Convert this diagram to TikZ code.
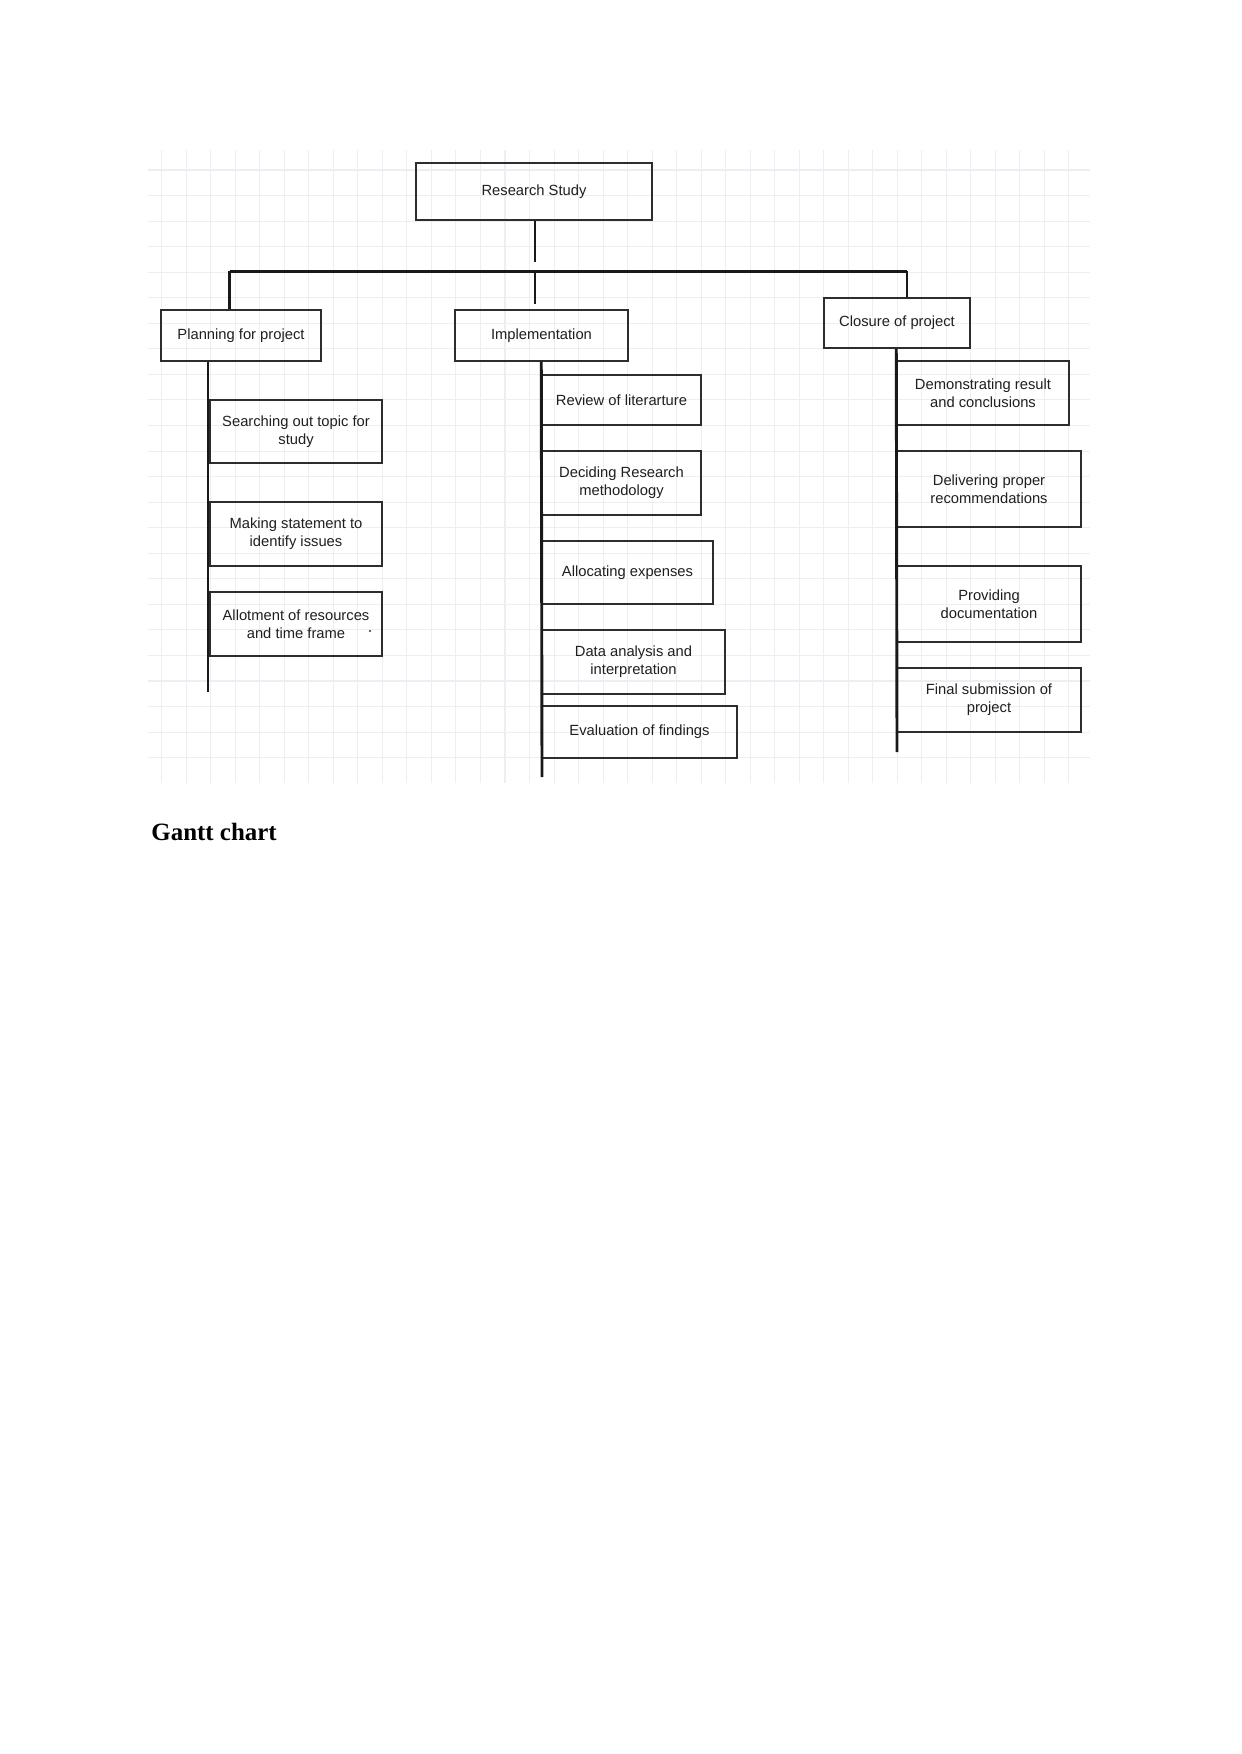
\documentclass[tikz,border=0pt]{standalone}
\usepackage{fontspec}
\setmainfont{Liberation Sans}
\newfontfamily\headfont{Liberation Serif}

\definecolor{boxgray}{RGB}{45,45,45}
\definecolor{gridblue}{RGB}{236,238,244}
\newcommand{\pxu}{0.016922cm}

\tikzset{
  box/.style 2 args={draw=boxgray, line width=0.7pt, rectangle, inner sep=0pt,
    minimum width=#1*\pxu, minimum height=#2*\pxu, align=center,
    font=\fontsize{7.1}{8.6}\selectfont, text=black!88},
  link/.style={line width=1.4pt, black!90},
  gridline/.style={gridblue, line width=0.5pt},
}

\begin{document}
\begin{tikzpicture}[x=\pxu, y=-\pxu]
    % Page
    \fill[white] (0,0) rectangle (1241,1754);
    \useasboundingbox (0,0) rectangle (1241,1754);

    % Background grid
    \foreach \i in {0,...,37}
        \draw[gridline] ({161.7+24.52*\i},150) -- ({161.7+24.52*\i},783);
    \foreach \j in {0,...,23}
        \draw[gridline] (148,{170+25.55*\j}) -- (1090,{170+25.55*\j});

    % Top level
    \node[box={236}{57}] (root) at (534,191.5) {Research Study};

    % Three branches
    \node[box={160}{51}] (plan) at (241,335.5) {Planning for project};
    \node[box={173}{51}] (impl) at (541.5,335.5) {Implementation};
    \node[box={146}{50}] (close) at (897,323) {Closure of project};

    % Planning tasks
    \node[box={172}{63}] (p1) at (296,431.5) {Searching out topic for\\study};
    \node[box={172}{64}] (p2) at (296,534) {Making statement to\\identify issues};
    \node[box={172}{64}] (p3) at (296,624) {Allotment of resources\\and time frame};
    \fill[black!80] (370,631) circle (1.1);

    % Implementation tasks
    \node[box={159}{50}] (i1) at (621.5,400) {Review of literarture};
    \node[box={159}{64}] (i2) at (621.5,483) {Deciding Research\\methodology};
    \node[box={171}{63}] (i3) at (627.5,572.5) {Allocating expenses};
    \node[box={183}{64}] (i4) at (633.5,662) {Data analysis and\\interpretation};
    \node[box={195}{52}] (i5) at (639.5,732) {Evaluation of findings};

    % Closure tasks
    \node[box={172}{64}] (c1) at (983,393) {Demonstrating result\\and conclusions};
    \node[box={184}{76}] (c2) at (989,489) {Delivering proper\\recommendations};
    \node[box={184}{76}] (c3) at (989,604) {Providing\\documentation};
    \node[box={184}{64}] (c4) at (989,700) {Final submission of\\project};

    % Connector ends
    \coordinate (root-end) at (535,262);
    \coordinate (bar-l) at (229.5,271.5);
    \coordinate (bar-r) at (907,271.5);
    \coordinate (mid-top) at (535,271.5);
    \coordinate (mid-end) at (535,304);
    \coordinate (plan-end) at (208,692);
    \coordinate (impl-end) at (542,777);
    \coordinate (close-end) at (897,752);

    % Draw the tree
    \draw[link] (root-end |- root.south) -- (root-end);
    \draw[link] (bar-l) -- (bar-r);
    \draw[link] (bar-l) -- (bar-l |- plan.north);
    \draw[link] (mid-top) -- (mid-end);
    \draw[link] (bar-r) -- (bar-r |- close.north);

    % Task lines
    \draw[link] (plan-end |- plan.south) -- (plan-end);
    \draw[link] (i1.west |- impl.south) -- (impl-end);
    \draw[link] (c1.west |- close.south) -- (close-end);

    % Heading below the chart
    \node[anchor=base west, inner sep=0pt, font=\headfont\bfseries\fontsize{12}{14}\selectfont] (gantt) at (151,840) {Gantt chart};

\end{tikzpicture}
\end{document}
